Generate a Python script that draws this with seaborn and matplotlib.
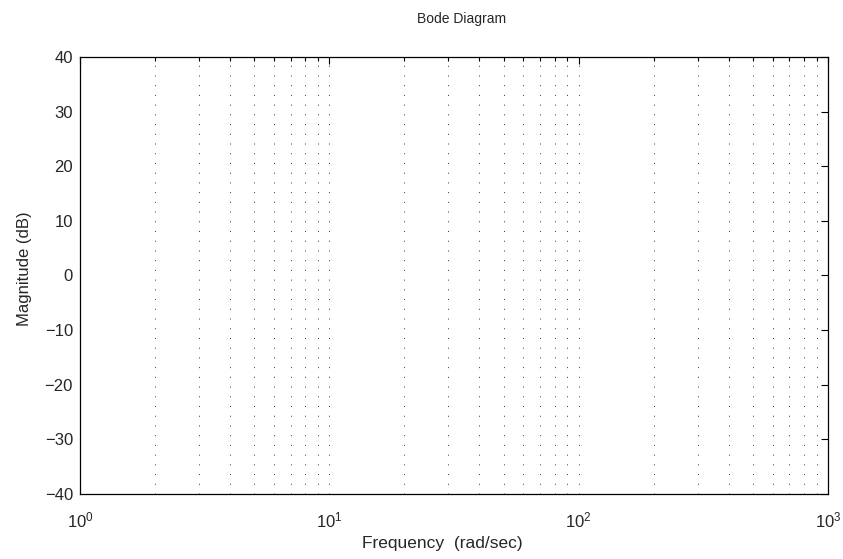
import numpy as np
import matplotlib
matplotlib.use("Agg")
import matplotlib.pyplot as plt
import seaborn as sns
from matplotlib.ticker import FixedLocator

# axis settings (chart has no data curve)
freq_limits = [1, 1000]
mag_limits = [-40, 40]
mag_ticks = [-40, -30, -20, -10, 0, 10, 20, 30, 40]
freq_major = [1, 10, 100, 1000]
freq_minor = [2, 3, 4, 5, 6, 7, 8, 9,
              20, 30, 40, 50, 60, 70, 80, 90,
              200, 300, 400, 500, 600, 700, 800, 900]
# dotted vertical grid lines drawn at these frequencies
grid_freqs = freq_minor[:8] + [10] + freq_minor[8:16] + [100] + freq_minor[16:]

sns.set_style("white")
plt.rcParams['font.family'] = ['Liberation Sans', 'DejaVu Sans']
plt.rcParams['mathtext.fontset'] = 'custom'
plt.rcParams['mathtext.rm'] = 'Liberation Sans'

fig = plt.figure(figsize=(8.43, 5.59), dpi=100)
ax = fig.add_axes([0.0949, 0.1163, 0.8873, 0.7818])

ax.set_xscale('log')
ax.set_xlim(freq_limits)
ax.set_ylim(mag_limits)

for f in grid_freqs:
    ax.axvline(f, color='#333333', lw=0.7, linestyle=(0, (1, 9)), zorder=1)

ax.xaxis.set_major_locator(FixedLocator(freq_major))
ax.xaxis.set_minor_locator(FixedLocator(freq_minor))
ax.set_yticks(mag_ticks)
ax.set_yticklabels([str(t) if t >= 0 else '\u2212' + str(-t) for t in mag_ticks])

ax.tick_params(which='both', direction='in', top=True, right=True,
               labelsize=12, color='black', width=0.8)
ax.tick_params(axis='x', which='major', length=5, pad=12)
ax.tick_params(axis='y', which='major', length=5, pad=5)
ax.tick_params(which='minor', length=3)

for s in ax.spines.values():
    s.set_color('black')
    s.set_linewidth(0.9)

ax.set_xlabel('Frequency  (rad/sec)', fontsize=12.5)
ax.set_ylabel('Magnitude (dB)', fontsize=12)
ax.xaxis.set_label_coords(0.484, -0.095)
ax.yaxis.set_label_coords(-0.064, 0.515)
fig.text(0.547, 0.9589, 'Bode Diagram', ha='center', va='baseline', fontsize=10)

fig.savefig('out.png', dpi=100)
